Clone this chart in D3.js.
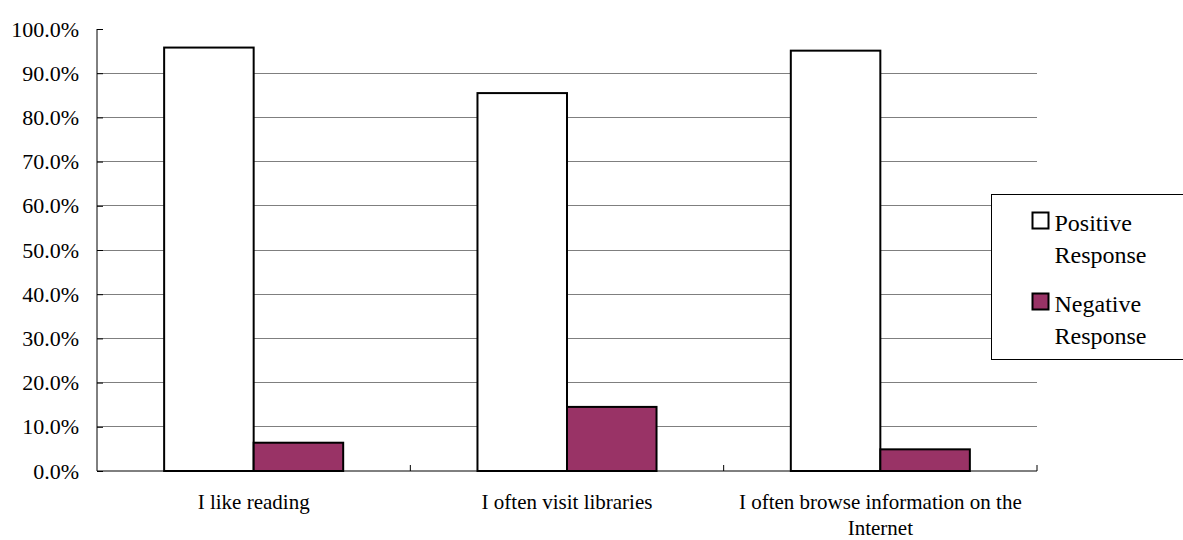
<!DOCTYPE html>
<html>
<head>
<meta charset="utf-8">
<script src="https://cdn.jsdelivr.net/npm/d3@7"></script>
<style>
  body { margin: 0; background: #fff; }
  svg text { font-family: "Liberation Serif", "Times New Roman", serif; fill: #000; }
</style>
</head>
<body>
<div id="bar_graph"></div>
<script>
// chart values
var categories = ["I like reading", "I often visit libraries", "I often browse information on the Internet"];
var seriesNames = ["Positive Response", "Negative Response"];
var positive = [0.958, 0.855, 0.951];
var negative = [0.064, 0.145, 0.049];
var yTicks = [0, 0.1, 0.2, 0.3, 0.4, 0.5, 0.6, 0.7, 0.8, 0.9, 1.0];
var colors = ["#ffffff", "#993366"];

var serif = "Liberation Serif";

function DrawBars() {
    d3.select("#bar_graph svg").remove();
    var margin = { top: 29, right: 146, bottom: 69, left: 97 },
        width = 1183 - margin.left - margin.right,
        height = 540 - margin.top - margin.bottom;

    var root = d3.select("#bar_graph")
        .append("svg")
        .attr("width", width + margin.left + margin.right)
        .attr("height", height + margin.top + margin.bottom)
        .attr("font-family", serif);
    var svg = root.append("g")
        .attr("transform", "translate(" + margin.left + "," + margin.top + ")");

    var data = categories.map(function (c, i) {
        return { key: c, values: [positive[i], negative[i]] };
    });

    var x0 = d3.scaleBand().domain(categories).range([0, width]).padding(0);
    var x1 = d3.scaleBand().domain(seriesNames).range([0, x0.bandwidth()])
        .paddingInner(0).paddingOuter(0.75);
    var y = d3.scaleLinear().domain([0, 1]).range([height, 0]);

    // gridlines (none on the top value)
    svg.append("g")
        .selectAll("line")
        .data(yTicks.filter(function (d) { return d > 0 && d < 1; }))
        .enter().append("line")
        .attr("x1", 0).attr("x2", width)
        .attr("y1", function (d) { return y(d); })
        .attr("y2", function (d) { return y(d); })
        .attr("stroke", "#7f7f7f")
        .attr("stroke-width", 1)
        .attr("shape-rendering", "crispEdges");

    // Y axis
    var yAxis = svg.append("g")
        .call(d3.axisLeft(y).tickValues(yTicks).tickSize(-6).tickPadding(18)
            .tickFormat(d3.format(".1%")));
    yAxis.attr("font-family", serif);
    yAxis.select(".domain").attr("stroke", "#000").attr("d", "M0," + y(1) + "V" + y(0));
    yAxis.selectAll(".tick line").attr("stroke", "#000");
    yAxis.selectAll("text").style("font-size", "22px");

    // bars
    var groups = svg.selectAll(".cat")
        .data(data)
        .enter().append("g")
        .attr("class", "cat")
        .attr("transform", function (d) { return "translate(" + x0(d.key) + ",0)"; });

    groups.selectAll("rect")
        .data(function (d) { return d.values.map(function (v, i) { return { s: seriesNames[i], v: v, i: i }; }); })
        .enter().append("rect")
        .attr("x", function (d) { return x1(d.s); })
        .attr("y", function (d) { return y(d.v); })
        .attr("width", x1.bandwidth())
        .attr("height", function (d) { return y(0) - y(d.v); })
        .attr("fill", function (d) { return colors[d.i]; })
        .attr("stroke", "#000")
        .attr("stroke-width", 2);

    // X axis
    var xAxis = svg.append("g")
        .attr("transform", "translate(0," + height + ")")
        .call(d3.axisBottom(x0).tickSize(0).tickPadding(23));
    xAxis.attr("font-family", serif);
    xAxis.select(".domain").attr("stroke", "#000").attr("d", "M0,0H" + width);
    xAxis.selectAll("text").style("font-size", "21px").call(wrap, 300);

    // category boundary ticks
    var bounds = categories.map(function (c) { return x0(c) + x0.step(); });
    svg.append("g")
        .selectAll("line")
        .data(bounds)
        .enter().append("line")
        .attr("x1", function (d) { return d; }).attr("x2", function (d) { return d; })
        .attr("y1", height).attr("y2", height - 6)
        .attr("stroke", "#000");

    // legend
    var legend = root.append("g")
        .attr("transform", "translate(991.5,194.5)");
    legend.append("rect")
        .attr("width", 200).attr("height", 165)
        .attr("fill", "#fff").attr("stroke", "#000").attr("stroke-width", 1);
    seriesNames.forEach(function (name, i) {
        var g = legend.append("g").attr("transform", "translate(0," + (i * 81) + ")");
        g.append("rect")
            .attr("x", 41).attr("y", 18).attr("width", 16).attr("height", 16)
            .attr("fill", colors[i]).attr("stroke", "#000").attr("stroke-width", 2);
        var words = name.split(" ");
        g.append("text").attr("x", 63).attr("y", 36)
            .attr("font-family", serif).attr("font-size", 24).text(words[0]);
        g.append("text").attr("x", 63).attr("y", 68)
            .attr("font-family", serif).attr("font-size", 24).text(words[1]);
    });
}

function wrap(text, w) {
    text.each(function () {
        var t = d3.select(this),
            words = t.text().split(/\s+/).reverse(),
            word, line = [], lineNumber = 0,
            yy = t.attr("y"), dy = parseFloat(t.attr("dy")),
            tspan = t.text(null).append("tspan").attr("x", 0).attr("y", yy).attr("dy", dy + "em");
        while (word = words.pop()) {
            line.push(word);
            tspan.text(line.join(" "));
            if (tspan.node().getComputedTextLength() > w) {
                line.pop();
                tspan.text(line.join(" "));
                line = [word];
                tspan = t.append("tspan").attr("x", 0).attr("y", yy)
                    .attr("dy", (++lineNumber * 1.25 + dy) + "em").text(word);
            }
        }
    });
}

DrawBars();
</script>
</body>
</html>
